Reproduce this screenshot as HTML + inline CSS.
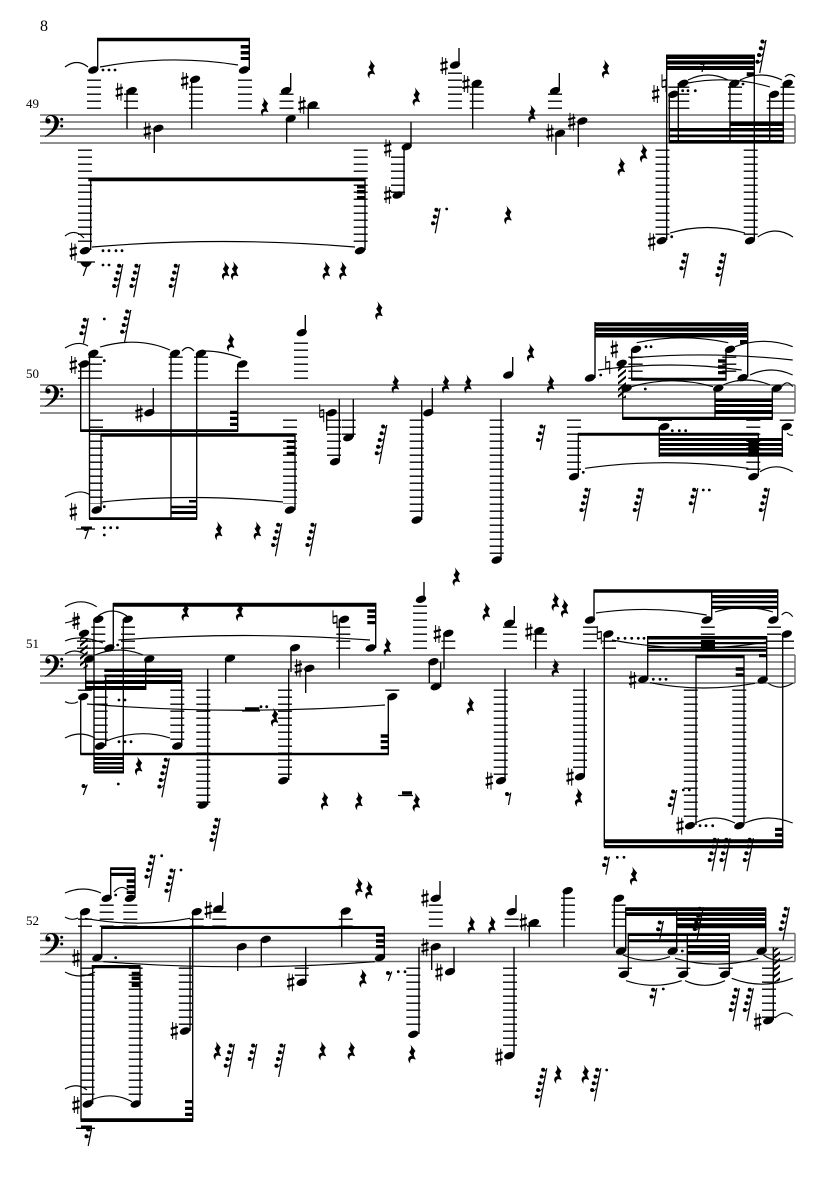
<!DOCTYPE html>
<html><head><meta charset="utf-8"><style>
html,body{margin:0;padding:0;background:#fff}
svg{display:block}
text{font-family:"Liberation Serif",serif;fill:#000}
.s{stroke:#6a6a6a;stroke-width:1.4;fill:none}
.st{stroke:#000;stroke-width:1.35;fill:none}
.b{fill:#000;stroke:none}
.t{stroke:#000;stroke-width:1.15;fill:none}
.d{stroke:#000;stroke-width:2.8;stroke-linecap:round;fill:none}
.l{stroke:#000;stroke-width:14;stroke-dasharray:1.4 5.6;fill:none}
</style></head><body>
<svg width="835" height="1181" viewBox="0 0 835 1181" xmlns="http://www.w3.org/2000/svg">
<defs>
<ellipse id="h" rx="5.4" ry="3.4" transform="rotate(-20)"/>
<g id="sh"><path d="M-1.7 -9V8M1.7 -8V9" stroke="#000" stroke-width="1"/><path d="M-3.6 -2.2L3.6 -4.2M-3.6 4.2L3.6 2.2" stroke="#000" stroke-width="2.2"/></g>
<g id="na"><path d="M-2 -9V4M2 -4V9" stroke="#000" stroke-width="1"/><path d="M-2 -2.5L2 -3.5M-2 4L2 3" stroke="#000" stroke-width="1.6"/></g>
<path id="q" d="M-2 -9.5L3.2 -3C1.2 -1 .7 1 3.4 5L2.8 5.6C0 4 -3 4.5 -2 9.5C-5.4 6 -4.4 2 -.5 2L-3.2 -2C-1 -4 -.5 -6 -2 -9.5Z"/>
<g id="f"><circle r="2"/><path d="M0 1.4Q2.4 1.6 4 -1.4" stroke="#000" stroke-width=".9" fill="none"/></g>
<g id="r2"><path d="M0 0L-3.5 18" stroke="#000" stroke-width="1.2"/><use href="#f" x="-3.6" y="1.5"/><use href="#f" x="-5.2" y="8.3"/></g>
<g id="r3"><path d="M0 0L-4.8 25" stroke="#000" stroke-width="1.2"/><use href="#f" x="-3.6" y="1.5"/><use href="#f" x="-5.2" y="8.3"/><use href="#f" x="-7" y="15"/></g>
<g id="r4"><path d="M0 0L-6.3 33" stroke="#000" stroke-width="1.2"/><use href="#f" x="-3.6" y="1.5"/><use href="#f" x="-5.2" y="8.3"/><use href="#f" x="-7" y="15"/><use href="#f" x="-8.6" y="21.7"/></g>
<g id="r5"><path d="M0 0L-7.4 39" stroke="#000" stroke-width="1.2"/><use href="#f" x="-3.6" y="1.5"/><use href="#f" x="-5.2" y="8.3"/><use href="#f" x="-7" y="15"/><use href="#f" x="-8.6" y="21.7"/><use href="#f" x="-10" y="28.3"/></g>
<g id="clef"><path d="M46 8C44 3 48 0 51 0C56 0 59 3 59 7C59 14 52 19 45 22L44.8 21.3C50 18 54.5 13 54.5 7C54.5 3 52.5 1 50.5 1C48.5 1 47 2.5 47 4Z"/><circle cx="48" cy="6" r="2.6"/><circle cx="61.7" cy="4.3" r="1.5"/><circle cx="61.7" cy="11" r="1.5"/></g>
<pattern id="hat" width="5" height="5" patternUnits="userSpaceOnUse" patternTransform="rotate(-40)"><rect width="5" height="2" fill="#000"/></pattern>
</defs>

<text x="40" y="31" font-size="16">8</text>
<text x="26" y="108" font-size="13">49</text>
<text x="26" y="378" font-size="13">50</text>
<text x="26" y="648" font-size="13">51</text>
<text x="26" y="925" font-size="13">52</text>

<path class="s" d="M40 115H795M40 122H795M40 129H795M40 136H795M40 143H795M795 115V143
M40 385H795M40 392H795M40 399H795M40 406H795M40 413H795M795 385V413
M40 655H795M40 662H795M40 669H795M40 676H795M40 683H795M795 655V683
M40 933.5H795M40 940.5H795M40 947.5H795M40 954.5H795M40 961.5H795M795 933.5V961.5"/>
<use href="#clef" y="115"/><use href="#clef" y="385"/><use href="#clef" y="655"/><use href="#clef" y="933"/>

<!-- ledger stacks -->
<path class="l" d="M94 79.5V109M245 79.5V109M131 93.5V109M196 86.5V109M286.5 93.5V109M312.5 107.5V109M85 149.5V242M360.7 149.5V242M398 156.5V193M455 72.5V109M476.7 86.5V109M555 93.5V109M662.5 149.5V235M750.7 149.5V235M735 86.5V109M773.7 100.5V109M787.5 86.5V109
M175.7 356.5V379M201 356.5V379M242 370.5V379M301 342.5V379M96 419.5V504M290 419.5V504M334 419.5V456M348.7 419.5V435M416.7 419.5V512M496.7 419.5V554M729.3 356.5V372M574 419.5V470M753.3 419.5V470M665 419.5V421M786.7 419.5V421
M98.3 626.5V649M128 626.5V649M84 640.5V649M84.8 689.5V691M100.7 696.5V740M177.3 689.5V740M203.3 689.5V803M285 689.5V775M343.3 626.5V649M392.3 689.5V691M420 605.5V649M448.3 640.5V649M500.7 689.5V775M580 689.5V768M510 626.5V649M540 633.5V649M590 626.5V649M707.8 626.5V649M774 626.5V649M609 640.5V649M787 640.5V649M690.8 689.5V819M739.3 689.5V819
M106.7 904.5V927M130.3 904.5V927M85 918.5V927M196.7 918.5V927M219.3 911.5V927M185.8 967.5V1025M87.5 967.5V1097M135.7 967.5V1097M301.7 967.5V976M345.7 918.5V927M413.3 967.5V1028M435.8 904.5V927M511.7 918.5V927M534 925.5V927M568 897.5V927M510 967.5V1046M618.7 904.5V927M625 967.5V969M683.3 967.5V969M725.7 967.5V969M769 967.5V1018"/>
<path class="l" style="stroke-width:21" d="M678.8 86.5V109"/>
<path class="l" style="stroke-width:24" d="M90 363.5V379"/>
<path class="l" style="stroke-width:14.4" d="M95.5 356.5V358M635.5 356.5V379"/>
<path class="st" d="M77 262H95M76 529H95M76 1128.3H95M398 795.5H413M242 711H260"/>

<!-- stems -->
<path class="st" d="M97.7 70V39M249.3 70V38M127 90V129M154.3 128V153M191.7 79V129M290.7 90V73M286.7 118V143M308.3 105V129M411 146V122M404 195V147M90.7 250V179M365 250V178M459 65V48M472.7 83V129M559.3 90V73M556 133V155M578.3 121V147M666.7 240V55M754.3 240V55M669.3 94V143M678.3 83V143M730 83V143M769.7 94V143M783.3 83V143
M80.7 364V431M89.5 353V519M101 434V510M171 353V518M196.7 353V518M237.7 364V431M295 510V434M153.3 412V388M305.3 332V315M326.7 412V431M339.3 461V399M353.3 437V399M421.7 520V400M432.3 412V388M512.7 375V357M501 399V560M595 378V322M622.7 388V419M715 388V418M772.3 388V418M631.7 349V380M726 349V380M747.7 377V322M578.3 476V433M758.3 476V433M659.3 427V457M782.3 427V457
M94 619V773M123.3 619V773M113.3 648V603M85.7 659V690M145.7 659V690M80.7 697V754M105.7 746V675M181.7 746V670M375.7 648V603M339.3 619V669M225.7 658V683M291 648V672M288.7 669V780M207.7 805V669M305.7 668V693M388.3 697V754M429.3 661V683M440.7 687V662M444 633V669M424 599V582M514.3 623V606M535.7 630V669M505 780V669M584.3 776V669M594 620V590M711.7 620V590M777.7 620V590M604.3 634V847.3M647.7 679V636M766.7 680V636M696 825V655M744 825V655M782.7 634V847.3
M110.7 898V868M135 898V868M81 912V1120M101.7 957V927M384.3 957V927M192.7 912V1120M190 1031V947M92.7 1104V967M140 1104V967M222.7 909V892M237.7 947V971M261.3 939V966M305.7 982V947M341.7 911V947M419 1034V947M440 898V881M431.7 947V970M454 972V947M516 911V895M529.3 922V947M564 891V947M514 947V1055M614.3 898V947M625.7 951V908M676.7 951V908M765.7 951V908M628.3 974V934M687.3 974V934M729.3 974V934M773.3 1020V947"/>

<!-- beams and flags -->
<path class="b" d="M97 37.7H250V41.3H97ZM240.7 45H249.3V48.5H240.7ZM240.7 51H249.3V54.5H240.7ZM240.7 57H249.3V60H240.7Z
M88.3 177.5H365.5V181.3H88.3ZM357 185H365V188.5H357ZM357 190H365V193.5H357ZM357 196H365V199H357ZM80 262H92Q90 267 86 267Q82 267 80 262Z
M666 54.5H754.8V59H666ZM666 60.5H754.8V64.5H666ZM666 66H754.8V70H666ZM746.7 72.3H754.3V76H746.7Z
M669 128H783.8V131.5H669ZM669 134.5H783.8V137.3H669ZM669 140H783.8V143.5H669ZM730 121.5H783.8V126H730Z
M80.2 429.3H238.2V432H80.2ZM101 433.3H295.5V436.7H101ZM230 410.7H237.7V414H230ZM230 416.7H237.7V420H230ZM230 422.7H237.7V426H230ZM286.7 440H295V443H286.7ZM286.7 445.7H295V449H286.7ZM286.7 451.7H295V455H286.7Z
M89 517.3H197.2V520H89ZM189 500H196.7V502.5H189ZM171 505.7H196.7V508.3H171ZM171 511H196.7V514H171ZM81 526.5H92V529.5H81Z
M595 322.3H748V326.3H595ZM595 327.5H748V331.5H595ZM595 333H748V337.5H595ZM622.2 416.7H772.8V420H622.2ZM715 398.5H772.3V402H715ZM715 404H772.3V407H715ZM715 410H772.3V414H715Z
M631.2 377.7H726.5V380.7H631.2ZM718 359.3H726V362.7H718ZM718 365.3H726V368.7H718ZM718 371H726V374.3H718ZM740 340H747.7V344H740Z
M578 432.7H758.8V435.7H578ZM659 438H782.8V441H659ZM659 443H782.8V446H659ZM659 448H782.8V450.5H659ZM659 452.5H782.8V456.5H659ZM748.3 438H758.3V456.7H748.3Z
M94 757H124V760H94ZM94 762H124V764.5H94ZM94 766.5H124V769H94ZM94 770.5H124V773.5H94Z
M113 602.7H376.2V606.7H113ZM85.2 686H146.2V690H85.2ZM85.2 680.5H146V684H85.2ZM104.3 669H182.2V672H104.3ZM104.3 674.5H182V677.3H104.3ZM104.3 680H182V684H104.3ZM367.3 609.3H375.7V612.7H367.3ZM367.3 615H375.7V618.3H367.3ZM367.3 621H375.7V624.3H367.3Z
M80.2 752.7H388.8V755.3H80.2ZM380.7 734.3H388.3V737.7H380.7ZM380.7 740H388.3V743.3H380.7ZM380.7 746H388.3V749.3H380.7ZM245 707.3H259.3V711H245ZM402 791.3H412V794.7H402Z
M593.5 589.3H778.2V592.7H593.5ZM711.7 595H777.7V598.3H711.7ZM711.7 600.7H777.7V603.3H711.7ZM711.7 605.7H777.7V609H711.7Z
M647.3 636H766.7V639.5H647.3ZM647.3 642H766.7V644.3H647.3ZM647.3 646.5H766.7V648.2H647.3ZM647.3 649H766.7V651.7H647.3ZM701 640H715V650H701ZM759 654H766.7V657.3H759Z
M695.5 655H744.5V658.3H695.5ZM735.7 667.3H744V670.7H735.7ZM735.7 673.3H744V676.7H735.7ZM604 839.3H783.3V843.3H604ZM604 845H783.3V848.3H604ZM775 827.7H782.7V831H775ZM775 833.3H782.7V836.7H775Z
M110.2 867.3H135.5V870H110.2ZM110.2 872.7H135.5V876H110.2ZM126.7 879.3H135V882.7H126.7ZM126.7 885H135V888.3H126.7ZM126.7 890.7H135V894H126.7Z
M101.2 926H384.8V929H101.2ZM376 933.3H384.3V936.7H376ZM376 939.3H384.3V942.7H376ZM376 945H384.3V948.3H376Z
M80.5 1118.3H193.2V1122H80.5ZM185 1100H193V1103.3H185ZM185 1106.7H193V1110H185ZM185 1112.7H193V1116H185ZM91.7 965H140.5V968.3H91.7ZM131.7 971.7H140V975H131.7ZM131.7 976.5H140V980H131.7ZM131.7 981.5H140V987H131.7ZM81 1125.5H92V1128.5H81Z
M625.2 907.3H766.2V911H625.2ZM625.2 912.3H766.2V916H625.2ZM676.7 917.7H766.2V921H676.7ZM676.7 923.3H766.2V928.3H676.7ZM628 933.3H730V936H628ZM628 939.3H730V942.3H628ZM686.8 945H730V948.3H686.8ZM686.8 951H730V954.7H686.8Z"/>

<!-- hatch -->
<g><rect x="618" y="366" width="8" height="32" fill="url(#hat)"/><rect x="80" y="636.7" width="7.7" height="31.6" fill="url(#hat)"/><rect x="773.3" y="948" width="6.7" height="33.7" fill="url(#hat)"/></g>

<!-- ties -->
<path class="t" d="M65 67Q77 58 88 67M100 67Q169 54 238 65M65 236Q75 228 84 238M92 247Q223 236 355 247M688 80Q708 70 728 80M740 80Q761 70 782 80M688 83Q730 75 770 87M785 77Q790 72 795 77M670 233Q707 222 745 233M757.7 237Q775 225 793 237
M65 348Q78 340 88 346M100 347Q138 336 170 350M182 351Q188 344 194 351M205 351Q222 351 241 358M65 497Q80 488 90 495M101.7 502Q190 493 283 502
M636.7 342.7Q682 333 728.3 342.7M735 346.7Q764 336 792.7 346.7M630 358Q710 351 792.7 360M598 370Q670 360 741.7 370M750 375Q771 365 792.7 375M631.7 386.7Q672 375 713 386.7M723 385Q746 375 770 385M781.7 386.7Q787 379 792.7 386.7M585 468.3Q666 457 748.3 468.3M760 471.7Q776 462 792.7 471.7M787 433Q790 436 793 435
M65 606.7Q81 597 96.7 606.7M65 623Q74 621 80 618M65 641Q80 634 103 643M65 654Q75 648 84 654M98 616Q112 606 127 616M95 655Q119 645 143 655M118.3 640Q244 631 370 640M87 704Q235 716 385 705M65 701.7Q72 705 78 701.7M65 738Q80 730 95 738M106 741Q140 728 170 738
M596 613Q650 605 706.7 615M715 612Q744 603 773 612M781.7 615Q787 609 792.7 616.7M612 640Q690 655 766.7 642M650 682.7Q702 693 755 683.3M768.3 683.3Q780 691 792.7 683.3M695 823Q715 813 735 823M745 823Q768 813 792.7 823
M65 893Q83 885 101 893M114 892Q121 884 128 890M65 917Q72 921 78 918M85 918.3Q137 928 190 918.3M103.3 961.7Q239 972 375 961.7M65 972Q80 980 95 972M88 1101.7Q110 1090 132 1101.7M65 1089Q77 1082 87 1090
M623 955Q646 965 670 956.7M675 958.3Q716 970 758.3 958.3M763.3 955Q778 965 792.7 956.7M626 980.7Q654 990 681.7 980.7M685 980.7Q705 990 725 980.7M731.7 978.3Q762 990 792.7 978.3M775 1018Q785 1009 792.7 1016"/>

<!-- dots -->
<path class="d" d="M103 70h0M109 70h0M115 70h0M103 250.7h0M109 250.7h0M116 250.7h0M122 250.7h0M103 265h0M109 265h0M671.7 236.7h0M682.7 90.7h0M688 90.7h0M695.3 90.7h0M743 84h0M446.7 209h0M707.5 63h0M711 63h0
M104.3 319h0M104.3 360.7h0M104.3 506.7h0M104.3 527.7h0M110.7 527.7h0M117.3 527.7h0M104.3 535h0M600.7 375h0M646 346.7h0M651 346.7h0M645.3 389h0M583.3 472.3h0M672.3 430.7h0M679.3 430.7h0M685.7 430.7h0M703.3 490h0M709.3 490h0
M117.7 645h0M119 700h0M125 700h0M119 741.7h0M125 741.7h0M131 741.7h0M118.3 784h0M261 706.7h0M266.7 706.7h0M618.3 638.3h0M625 638.3h0M631.7 638.3h0M638.3 638.3h0M644 638.3h0M653.3 679.3h0M660 679.3h0M666 679.3h0M700 825.7h0M706 825.7h0M712.7 825.7h0M683.3 790h0M689.3 790h0
M161.7 855.7h0M181 870h0M115.7 895h0M115.7 957.7h0M398.3 971.7h0M405 971.7h0M682.3 951h0M617.3 857.3h0M624 857.3h0M663.3 989h0M606.7 1070h0"/>

<!-- noteheads -->
<g>
<use href="#h" x="93.3" y="70"/><use href="#h" x="244" y="70"/><use href="#h" x="131.7" y="90.7"/><use href="#h" x="158.3" y="128.3"/><use href="#h" x="195" y="79.3"/><use href="#h" x="286" y="90.7"/><use href="#h" x="290.7" y="118.7"/><use href="#h" x="312.7" y="105"/><use href="#h" x="406.7" y="146.7"/><use href="#h" x="397.7" y="195"/><use href="#h" x="85" y="250.7"/><use href="#h" x="360" y="250.7"/><use href="#h" x="455" y="65"/><use href="#h" x="476.7" y="83.3"/><use href="#h" x="555" y="90.7"/><use href="#h" x="560" y="133.3"/><use href="#h" x="582.3" y="121"/><use href="#h" x="661.7" y="240.7"/><use href="#h" x="750" y="240.7"/><use href="#h" x="673.3" y="94.3"/><use href="#h" x="683.3" y="83.3"/><use href="#h" x="734.3" y="83.3"/><use href="#h" x="774" y="94.3"/><use href="#h" x="787.7" y="83.3"/>
<use href="#h" x="84" y="364"/><use href="#h" x="93.3" y="353.3"/><use href="#h" x="175" y="353.3"/><use href="#h" x="201" y="353.3"/><use href="#h" x="242.3" y="364"/><use href="#h" x="96.7" y="510"/><use href="#h" x="290" y="510"/><use href="#h" x="149.3" y="412.7"/><use href="#h" x="301.7" y="332.7"/><use href="#h" x="331.7" y="412.7"/><use href="#h" x="335" y="461.7"/><use href="#h" x="348.3" y="437.7"/><use href="#h" x="416.7" y="520"/><use href="#h" x="428.3" y="412.7"/><use href="#h" x="508.3" y="375"/><use href="#h" x="496.7" y="560"/><use href="#h" x="590" y="378"/><use href="#h" x="621.7" y="363.3"/><use href="#h" x="626.7" y="388.3"/><use href="#h" x="718.3" y="388.3"/><use href="#h" x="776.7" y="388.3"/><use href="#h" x="636" y="349.3"/><use href="#h" x="730" y="349.3"/><use href="#h" x="742.7" y="377.7"/><use href="#h" x="574" y="476.7"/><use href="#h" x="753.3" y="476.7"/><use href="#h" x="664.3" y="426.7"/><use href="#h" x="786.7" y="426.7"/>
<use href="#h" x="84" y="633.3"/><use href="#h" x="89.3" y="659"/><use href="#h" x="98.3" y="619.3"/><use href="#h" x="127.7" y="619.3"/><use href="#h" x="109.3" y="648"/><use href="#h" x="149.3" y="659"/><use href="#h" x="83.3" y="696.7"/><use href="#h" x="100" y="746"/><use href="#h" x="177.3" y="746"/><use href="#h" x="370.7" y="648"/><use href="#h" x="344" y="619.3"/><use href="#h" x="230" y="658.3"/><use href="#h" x="295" y="647.7"/><use href="#h" x="283.3" y="780.7"/><use href="#h" x="202.7" y="805"/><use href="#h" x="309.3" y="668.3"/><use href="#h" x="392.3" y="696.7"/><use href="#h" x="433.3" y="661.7"/><use href="#h" x="435.7" y="686.7"/><use href="#h" x="448.3" y="633.3"/><use href="#h" x="421" y="599.3"/><use href="#h" x="509.3" y="623.3"/><use href="#h" x="539.3" y="630.7"/><use href="#h" x="501" y="780.7"/><use href="#h" x="580" y="776.7"/><use href="#h" x="590" y="620"/><use href="#h" x="706.7" y="620"/><use href="#h" x="773.3" y="620"/><use href="#h" x="608.3" y="634"/><use href="#h" x="643.3" y="679.3"/><use href="#h" x="762.7" y="680"/><use href="#h" x="690" y="825.7"/><use href="#h" x="739.3" y="825.7"/><use href="#h" x="786.7" y="634"/>
<use href="#h" x="106.7" y="898.3"/><use href="#h" x="130" y="898.3"/><use href="#h" x="85" y="911.7"/><use href="#h" x="97.3" y="957.7"/><use href="#h" x="380" y="957.7"/><use href="#h" x="196.7" y="911.7"/><use href="#h" x="185" y="1031"/><use href="#h" x="87.7" y="1104"/><use href="#h" x="135.7" y="1104"/><use href="#h" x="218.3" y="909"/><use href="#h" x="241.7" y="946.7"/><use href="#h" x="265.7" y="939.3"/><use href="#h" x="301.7" y="982.3"/><use href="#h" x="345.7" y="911"/><use href="#h" x="413.3" y="1034.3"/><use href="#h" x="435.7" y="898.3"/><use href="#h" x="435.7" y="946.7"/><use href="#h" x="450" y="971.7"/><use href="#h" x="511.7" y="911.7"/><use href="#h" x="534" y="922.7"/><use href="#h" x="567.7" y="890.7"/><use href="#h" x="509.3" y="1055.7"/><use href="#h" x="619" y="898.3"/><use href="#h" x="621" y="951"/><use href="#h" x="672.7" y="951"/><use href="#h" x="761.7" y="951"/><use href="#h" x="624" y="974.3"/><use href="#h" x="683.3" y="974.3"/><use href="#h" x="725" y="974.3"/><use href="#h" x="768.3" y="1020.7"/>
</g>

<!-- accidentals -->
<g>
<use href="#sh" x="119.3" y="91.7"/><use href="#sh" x="147.3" y="130.7"/><use href="#sh" x="184.7" y="81"/><use href="#sh" x="302" y="105"/><use href="#sh" x="387.7" y="148.3"/><use href="#sh" x="387.7" y="195"/><use href="#sh" x="73.3" y="251.7"/><use href="#sh" x="444" y="66"/><use href="#sh" x="466" y="84"/><use href="#sh" x="550" y="132.7"/><use href="#sh" x="571.7" y="121.7"/><use href="#sh" x="651.7" y="241.7"/><use href="#sh" x="655.7" y="94"/><use href="#na" x="664" y="83.3"/>
<use href="#sh" x="73.3" y="365"/><use href="#sh" x="73.3" y="511.7"/><use href="#sh" x="139" y="413.3"/><use href="#na" x="321.7" y="413.3"/><use href="#na" x="607.7" y="365"/><use href="#sh" x="614.3" y="349.3"/>
<use href="#sh" x="76" y="621"/><use href="#na" x="335" y="619.3"/><use href="#sh" x="298.3" y="668.3"/><use href="#sh" x="437.3" y="634"/><use href="#sh" x="529" y="631.7"/><use href="#sh" x="489.3" y="780.7"/><use href="#sh" x="570" y="776.7"/><use href="#na" x="599.3" y="635"/><use href="#sh" x="632.7" y="680"/><use href="#sh" x="680" y="825.7"/>
<use href="#sh" x="76" y="958"/><use href="#sh" x="174.3" y="1031"/><use href="#sh" x="76" y="1105"/><use href="#sh" x="208.3" y="910"/><use href="#sh" x="290.7" y="982.3"/><use href="#sh" x="425" y="898.3"/><use href="#sh" x="425" y="947.3"/><use href="#sh" x="439" y="972.3"/><use href="#sh" x="523.3" y="922.3"/><use href="#sh" x="499" y="1056.7"/><use href="#sh" x="757.7" y="1021.7"/>
</g>

<!-- quarter rests -->
<g>
<use href="#q" x="265" y="106.7"/><use href="#q" x="371.7" y="69"/><use href="#q" x="416.7" y="96.7"/><use href="#q" x="226" y="270.7"/><use href="#q" x="235" y="270.7"/><use href="#q" x="326.7" y="270.7"/><use href="#q" x="343.3" y="270.7"/><use href="#q" x="532.3" y="114"/><use href="#q" x="606" y="69"/><use href="#q" x="621.7" y="166.7"/><use href="#q" x="644" y="153.3"/><use href="#q" x="508.3" y="215"/>
<use href="#q" x="219" y="530.7"/><use href="#q" x="257.7" y="530.7"/><use href="#q" x="231" y="342.3"/><use href="#q" x="379.3" y="310.7"/><use href="#q" x="395.7" y="384"/><use href="#q" x="446" y="384"/><use href="#q" x="468.3" y="384"/><use href="#q" x="531" y="352.7"/><use href="#q" x="551" y="384"/>
<use href="#q" x="185.7" y="611.7"/><use href="#q" x="240" y="611.7"/><use href="#q" x="275" y="717.3"/><use href="#q" x="387.7" y="646.7"/><use href="#q" x="139" y="766"/><use href="#q" x="325" y="800.7"/><use href="#q" x="359.3" y="800.7"/><use href="#q" x="416.7" y="802.3"/><use href="#q" x="456.7" y="576.7"/><use href="#q" x="486.7" y="611.7"/><use href="#q" x="470.7" y="705.7"/><use href="#q" x="555.7" y="601.7"/><use href="#q" x="565" y="608.3"/><use href="#q" x="555.7" y="667.7"/><use href="#q" x="579" y="797.3"/>
<use href="#q" x="359.3" y="886.7"/><use href="#q" x="369.3" y="890"/><use href="#q" x="363.3" y="978.3"/><use href="#q" x="412.3" y="1054"/><use href="#q" x="217.7" y="1050.7"/><use href="#q" x="322.7" y="1050.7"/><use href="#q" x="351.7" y="1050.7"/><use href="#q" x="471.7" y="925"/><use href="#q" x="492.3" y="925"/><use href="#q" x="634" y="876"/><use href="#q" x="558.3" y="1074.3"/><use href="#q" x="585.7" y="1074.3"/>
</g>

<!-- slanted short rests -->
<g>
<use href="#r4" x="122.7" y="264.3"/><use href="#r4" x="140" y="264.3"/><use href="#r4" x="179.3" y="264.3"/><use href="#r3" x="440" y="208.3"/><use href="#r4" x="766" y="40"/><use href="#r3" x="688.3" y="253.3"/><use href="#r4" x="726" y="253.3"/>
<use href="#r3" x="88.3" y="318.3"/><use href="#r4" x="130.7" y="310"/><use href="#r4" x="281.7" y="523.3"/><use href="#r4" x="316" y="523.3"/><use href="#r5" x="386.7" y="425"/><use href="#r3" x="545" y="425"/><use href="#r4" x="590" y="488.3"/><use href="#r4" x="643.3" y="488.3"/><use href="#r3" x="697.7" y="488.3"/><use href="#r4" x="769.3" y="488.3"/>
<use href="#r5" x="169.3" y="758.3"/><use href="#r4" x="220" y="818.3"/><use href="#r3" x="676.7" y="790"/>
<use href="#r4" x="155" y="855"/><use href="#r4" x="175" y="869"/><use href="#r2" x="91.7" y="1128"/><use href="#r4" x="234.3" y="1044"/><use href="#r3" x="256.7" y="1044"/><use href="#r4" x="285" y="1044"/><use href="#r2" x="609.3" y="856.7"/><use href="#r4" x="718.3" y="838.3"/><use href="#r4" x="730" y="838.3"/><use href="#r4" x="753.3" y="838.3"/><use href="#r2" x="663.3" y="921"/><use href="#r4" x="703.3" y="907.3"/><use href="#r4" x="789.3" y="907.3"/><use href="#r2" x="656.7" y="988.3"/><use href="#r4" x="739.3" y="988.3"/><use href="#r4" x="753.3" y="988.3"/><use href="#r5" x="546.7" y="1068.3"/><use href="#r4" x="600.7" y="1068.3"/>
</g>
<!-- eighth rests (single flag) -->
<path d="M87.5 264L83.3 276M704.5 62L702 72M87 785L83.3 795M510.7 793L508.5 805M391.7 971.7L388.3 981M89 528L85 539" stroke="#000" stroke-width="1.2" fill="none"/>
<g><use href="#f" x="701.5" y="63"/><use href="#f" x="83.5" y="786"/><use href="#f" x="507" y="794"/><use href="#f" x="388" y="973"/><use href="#f" x="85.5" y="529"/></g>
</svg>
</body></html>
